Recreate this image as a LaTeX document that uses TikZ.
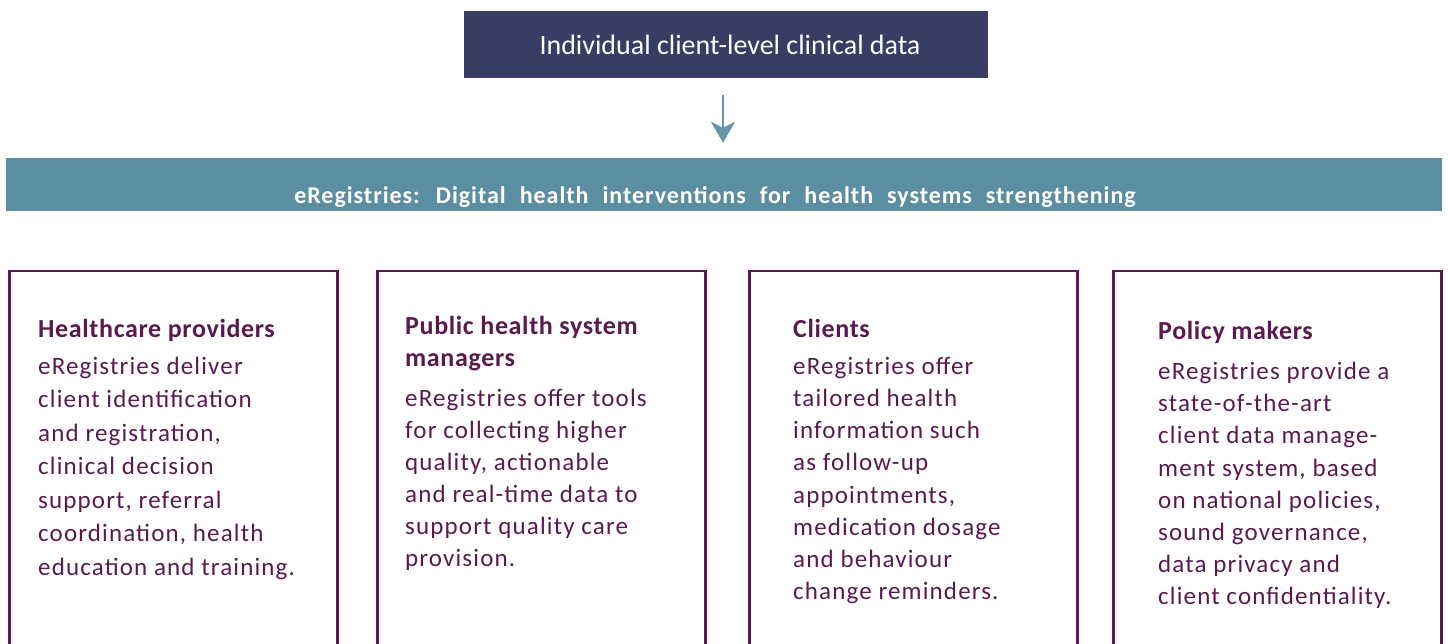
\documentclass[tikz,border=0pt]{standalone}
\usepackage{fontspec}
\setmainfont{Carlito}
\newfontfamily\bodyfont[LetterSpace=4.6]{Carlito}
\newfontfamily\titlefont[LetterSpace=2.5]{Carlito}
\newfontfamily\bannerfont[LetterSpace=4]{Carlito}
\usetikzlibrary{arrows.meta}
\definecolor{navy}{HTML}{383D63}
\definecolor{teal}{HTML}{5A8EA0}
\definecolor{arrowteal}{HTML}{6396A7}
\definecolor{plum}{HTML}{5B1A4F}
\newcommand{\widespaces}{\spaceskip=14pt\relax}
\begin{document}
\begin{tikzpicture}[x=1pt,y=-1pt,
  topbox/.style={fill=navy, text=white, minimum width=524pt, minimum height=67pt, inner sep=0pt,
    font=\fontsize{28}{32}\selectfont},
  banner/.style={fill=teal, text=white, minimum width=1436pt, inner sep=0pt,
    text height=45.5pt, text depth=7.5pt,
    font=\bannerfont\bfseries\fontsize{24}{28}\selectfont},
  card/.style={draw=plum, line width=2.6pt, minimum width=328pt, minimum height=420pt,
    anchor=north west, inner sep=0pt},
  cardtitle/.style={text=plum, inner sep=0pt, align=left,
    font=\titlefont\bfseries\fontsize{26}{32}\selectfont},
  cardbody/.style={text=plum, inner sep=0pt, align=left, anchor=north west},
  arr/.style={draw=arrowteal, line width=2.5pt, -{Stealth[length=21pt,width=24pt,inset=6pt]}}
]
\useasboundingbox (0,0) rectangle (1448,643);
\clip (0,0) rectangle (1448,643);

\node[topbox] (src) at (726,44.5) {\hspace*{8pt}Individual client-level clinical data};
\node[banner] (reg) at (724,184.5) {\widespaces eRegistries: Digital health interventions for health systems strengthening\kern18pt\relax};

\draw[arr, shorten <=17pt, shorten >=15pt] ([xshift=-3pt]src.south) -- ([xshift=-3pt]src.south |- reg.north);

% cards
\node[card] (c1) at (8,269.5) {};
\node[card] (c2) at (376,269.5) {};
\node[card] (c3) at (748,269.5) {};
\node[card] (c4) at (1112,269.5) {};

% card 1
\node[cardtitle, anchor=base west] (t1) at (38,337) {Healthcare providers};
\node[cardbody, font=\bodyfont\fontsize{25}{33.5}\selectfont] (b1) at (38,354)
  {\rule{0pt}{20pt}eRegistries deliver\\client identification\\and registration,\\clinical decision\\support, referral\\coordination, health\\education and training.};

% card 2
\node[cardtitle, anchor=north west] (t2) at (405,312.5)
  {\rule{0pt}{22pt}Public health system\\managers};
\node[cardbody, font=\bodyfont\fontsize{25}{32}\selectfont] (b2) at (405,386.5)
  {\rule{0pt}{20pt}eRegistries offer tools\\for collecting higher\\quality, actionable\\and real-time data to\\support quality care\\provision.};

% card 3
\node[cardtitle, anchor=base west] (t3) at (793,337) {Clients};
\node[cardbody, font=\bodyfont\fontsize{25}{32.2}\selectfont] (b3) at (793,354)
  {\rule{0pt}{20pt}eRegistries offer\\tailored health\\information such\\as follow-up\\appointments,\\medication dosage\\and behaviour\\change reminders.};

% card 4
\node[cardtitle, anchor=base west] (t4) at (1158,339.5) {Policy makers};
\node[cardbody, font=\bodyfont\fontsize{25}{32.2}\selectfont] (b4) at (1158,359.3)
  {\rule{0pt}{20pt}eRegistries provide a\\state-of-the-art\\client data manage-\\ment system, based\\on national policies,\\sound governance,\\data privacy and\\client confidentiality.};
\end{tikzpicture}
\end{document}
